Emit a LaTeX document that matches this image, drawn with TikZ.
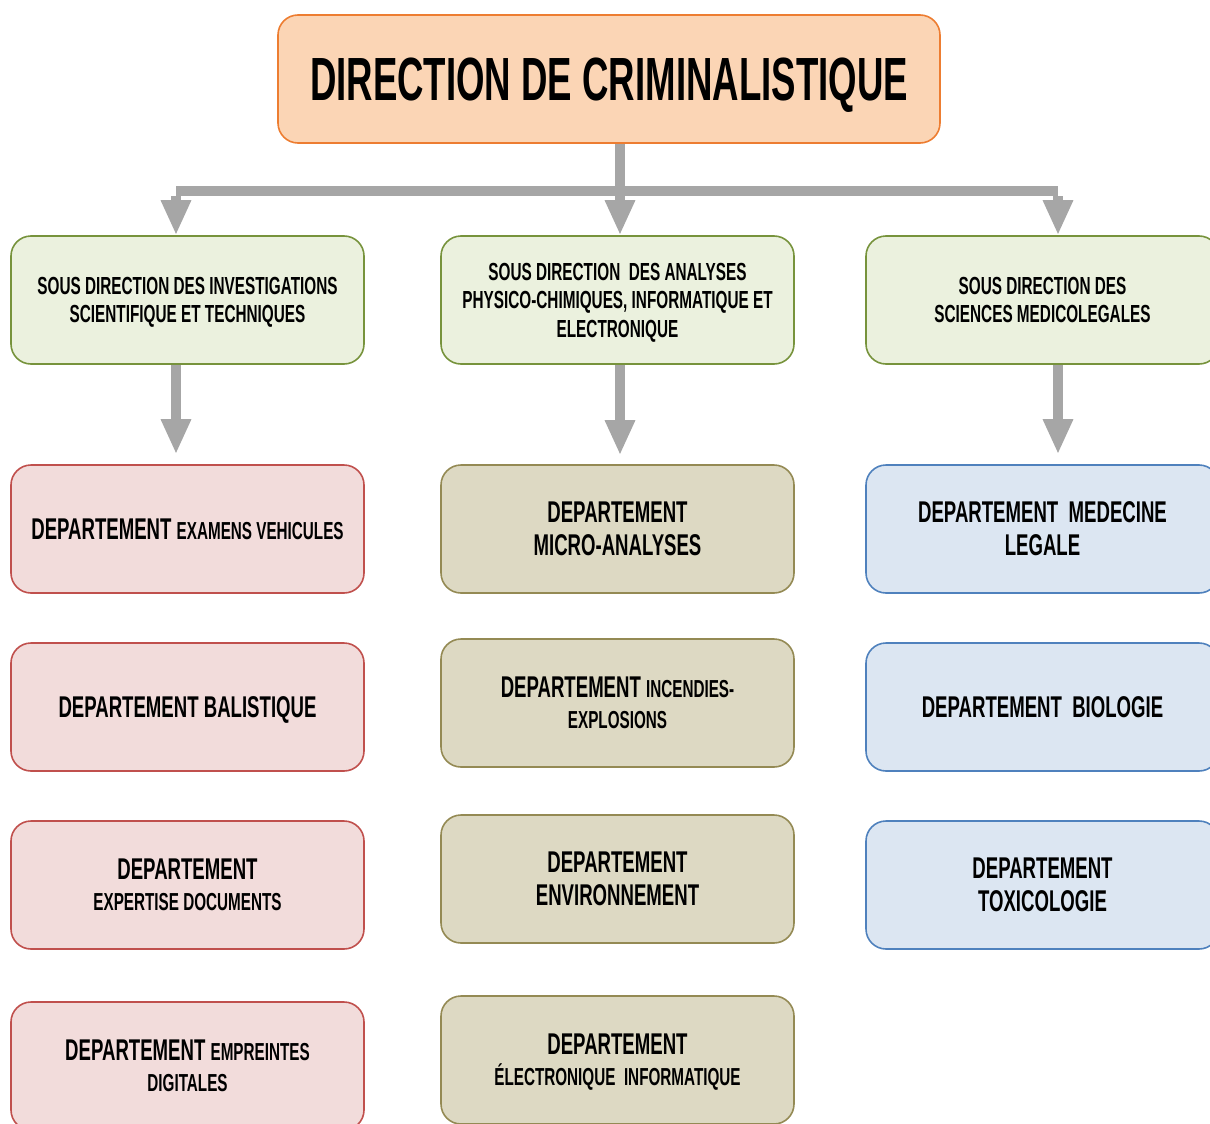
\documentclass[tikz,border=0pt]{standalone}
\usepackage{fontspec}
\setmainfont{Liberation Sans}[FakeStretch=0.62]
\newfontfamily\titlefont{Liberation Sans}[FakeStretch=0.60]
\usetikzlibrary{arrows.meta}
\definecolor{arrg}{HTML}{A6A6A6}
\definecolor{topfill}{HTML}{FBD5B5}
\definecolor{topdraw}{HTML}{ED7D31}
\definecolor{grfill}{HTML}{EBF1DE}
\definecolor{grdraw}{HTML}{77933C}
\definecolor{pkfill}{HTML}{F2DCDB}
\definecolor{pkdraw}{HTML}{C0504D}
\definecolor{tnfill}{HTML}{DDD9C3}
\definecolor{tndraw}{HTML}{948A54}
\definecolor{blfill}{HTML}{DCE6F2}
\definecolor{bldraw}{HTML}{4F81BD}
\newcommand\fbig{\fontsize{30}{33}\selectfont}
\newcommand\fsml{\fontsize{24.6}{31}\selectfont}
\tikzset{
  boxbase/.style={rectangle, rounded corners=20pt, line width=1.6pt, minimum width=353pt, minimum height=128pt, inner sep=0pt, align=center, text=black, text depth=0pt, font=\bfseries},
  topbox/.style={boxbase, fill=topfill, draw=topdraw, minimum width=662pt, font=\titlefont\bfseries\fontsize{61}{64}\selectfont},
  subbox/.style={boxbase, fill=grfill, draw=grdraw, font=\bfseries\fontsize{24.7}{28.5}\selectfont},
  pkbox/.style={boxbase, fill=pkfill, draw=pkdraw, font=\bfseries\fbig},
  tnbox/.style={boxbase, fill=tnfill, draw=tndraw, font=\bfseries\fbig},
  blbox/.style={boxbase, fill=blfill, draw=bldraw, font=\bfseries\fbig},
  mixed/.style={font=\bfseries\fontsize{30}{31}\selectfont},
  barline/.style={draw=arrg, line width=10pt},
  arr/.style={draw=arrg, line width=10pt, -{Triangle[width=28pt,length=35pt]}}
}
\begin{document}
\begin{tikzpicture}[x=1pt,y=-1pt]
\useasboundingbox (0,0) rectangle (1210,1124);
\clip (0,0) rectangle (1210,1124);
% top
\node[topbox] (top) at (609,79) {DIRECTION DE CRIMINALISTIQUE};
% sub directions
\node[subbox] (s1) at (187.5,300) {SOUS DIRECTION DES INVESTIGATIONS\\SCIENTIFIQUE ET TECHNIQUES};
\node[subbox] (s2) at (617.5,300) {SOUS DIRECTION\ \ DES ANALYSES\\PHYSICO-CHIMIQUES, INFORMATIQUE ET\\ELECTRONIQUE};
\node[subbox] (s3) at (1042.5,300) {SOUS DIRECTION DES\\SCIENCES MEDICOLEGALES};
% left column
\node[pkbox] (l1) at (187.5,529) {DEPARTEMENT\ {\fsml EXAMENS VEHICULES}};
\node[pkbox] (l2) at (187.5,707) {DEPARTEMENT BALISTIQUE};
\node[pkbox, mixed] (l3) at (187.5,885) {DEPARTEMENT\\{\fsml EXPERTISE DOCUMENTS}};
\node[pkbox, mixed] (l4) at (187.5,1066) {DEPARTEMENT {\fsml EMPREINTES}\\{\fsml DIGITALES}};
% middle column
\node[tnbox] (m1) at (617.5,529) {DEPARTEMENT\\MICRO-ANALYSES};
\node[tnbox, mixed] (m2) at (617.5,703) {DEPARTEMENT {\fsml INCENDIES-}\\{\fsml EXPLOSIONS}};
\node[tnbox] (m3) at (617.5,879) {DEPARTEMENT\\ENVIRONNEMENT};
\node[tnbox, mixed] (m4) at (617.5,1060) {DEPARTEMENT\\{\fsml ÉLECTRONIQUE\ \ INFORMATIQUE}};
% right column
\node[blbox] (r1) at (1042.5,529) {DEPARTEMENT\ \ MEDECINE\\LEGALE};
\node[blbox] (r2) at (1042.5,707) {DEPARTEMENT\ \ BIOLOGIE};
\node[blbox] (r3) at (1042.5,885) {DEPARTEMENT\\TOXICOLOGIE};
% connectors
\coordinate (bl) at (176,191);
\coordinate (bm) at (620,191);
\coordinate (br) at (1058,191);
\draw[barline] (bm |- top.south) -- (bm);
\draw[barline] (bl) -- (br);
\draw[arr] ([yshift=-5pt]bl) -- (bl |- s1.north);
\draw[arr] (bm) -- (bm |- s2.north);
\draw[arr] ([yshift=-5pt]br) -- (br |- s3.north);
\draw[arr, shorten >=10pt] (bl |- s1.south) -- (bl |- l1.north);
\draw[arr, shorten >=9pt] (bm |- s2.south) -- (bm |- m1.north);
\draw[arr, shorten >=10pt] (br |- s3.south) -- (br |- r1.north);
\end{tikzpicture}
\end{document}
